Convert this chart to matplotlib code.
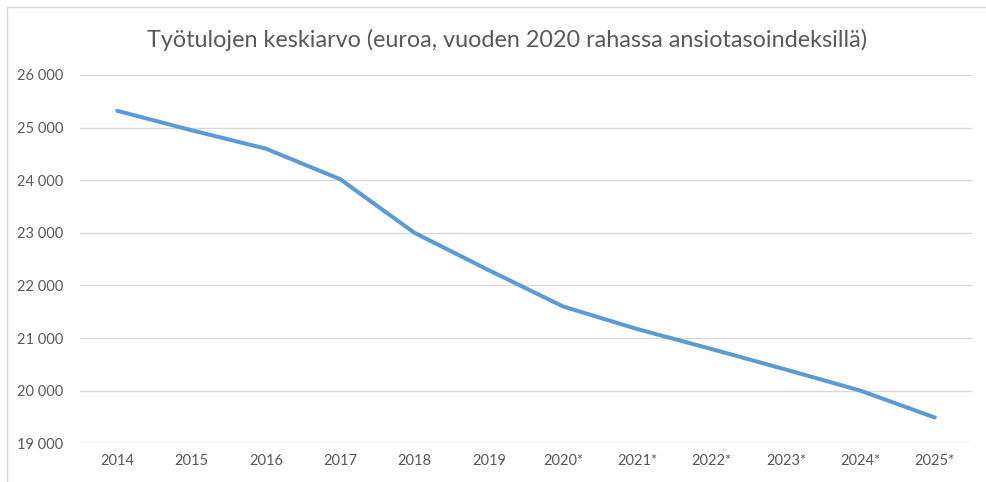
import matplotlib.pyplot as plt
from matplotlib.patches import Rectangle
from matplotlib.ticker import FuncFormatter

# Data
years = ['2014', '2015', '2016', '2017', '2018', '2019',
         '2020*', '2021*', '2022*', '2023*', '2024*', '2025*']
income = [25320, 24950, 24600, 24020, 23000, 22290,
          21600, 21170, 20790, 20400, 20000, 19490]

plt.rcParams['font.family'] = ['Lato', 'DejaVu Sans']

fig = plt.figure(figsize=(9.86, 4.82), dpi=100)
W, H = 986, 482

# chart frame (Excel-style border, partly cropped)
fig.patches.append(Rectangle((7 / W, -0.1), 1.1, 1.1 - 7 / H,
                             transform=fig.transFigure, fill=False,
                             edgecolor='#D9D9D9', linewidth=1))

ax = fig.add_axes([80 / W, 1 - 443.3 / H, (972 - 80) / W, (443.3 - 75) / H])

x = range(len(years))
ax.plot(x, income, color='#5B9BD5', linewidth=2.9, solid_capstyle='round')

ax.set_xlim(-0.5, len(years) - 0.5)
ax.set_ylim(19000, 26000)
ax.set_yticks(range(19000, 26001, 1000))
ax.yaxis.set_major_formatter(FuncFormatter(lambda v, p: f'{int(v):,}'.replace(',', ' ')))
ax.set_xticks(list(x))
ax.set_xticklabels(years)

ax.grid(axis='y', color='#D9D9D9', linewidth=1)
ax.set_axisbelow(True)
for s in ax.spines.values():
    s.set_visible(False)
ax.tick_params(length=0, labelsize=10.5, colors='#595959')
ax.tick_params(axis='x', pad=8)
ax.tick_params(axis='y', pad=12)

fig.text(507 / W, 1 - 40 / H, 'Työtulojen keskiarvo (euroa, vuoden 2020 rahassa ansiotasoindeksillä)',
         ha='center', va='center', fontsize=16.8, color='#595959')

fig.savefig('out.png', dpi=100)
